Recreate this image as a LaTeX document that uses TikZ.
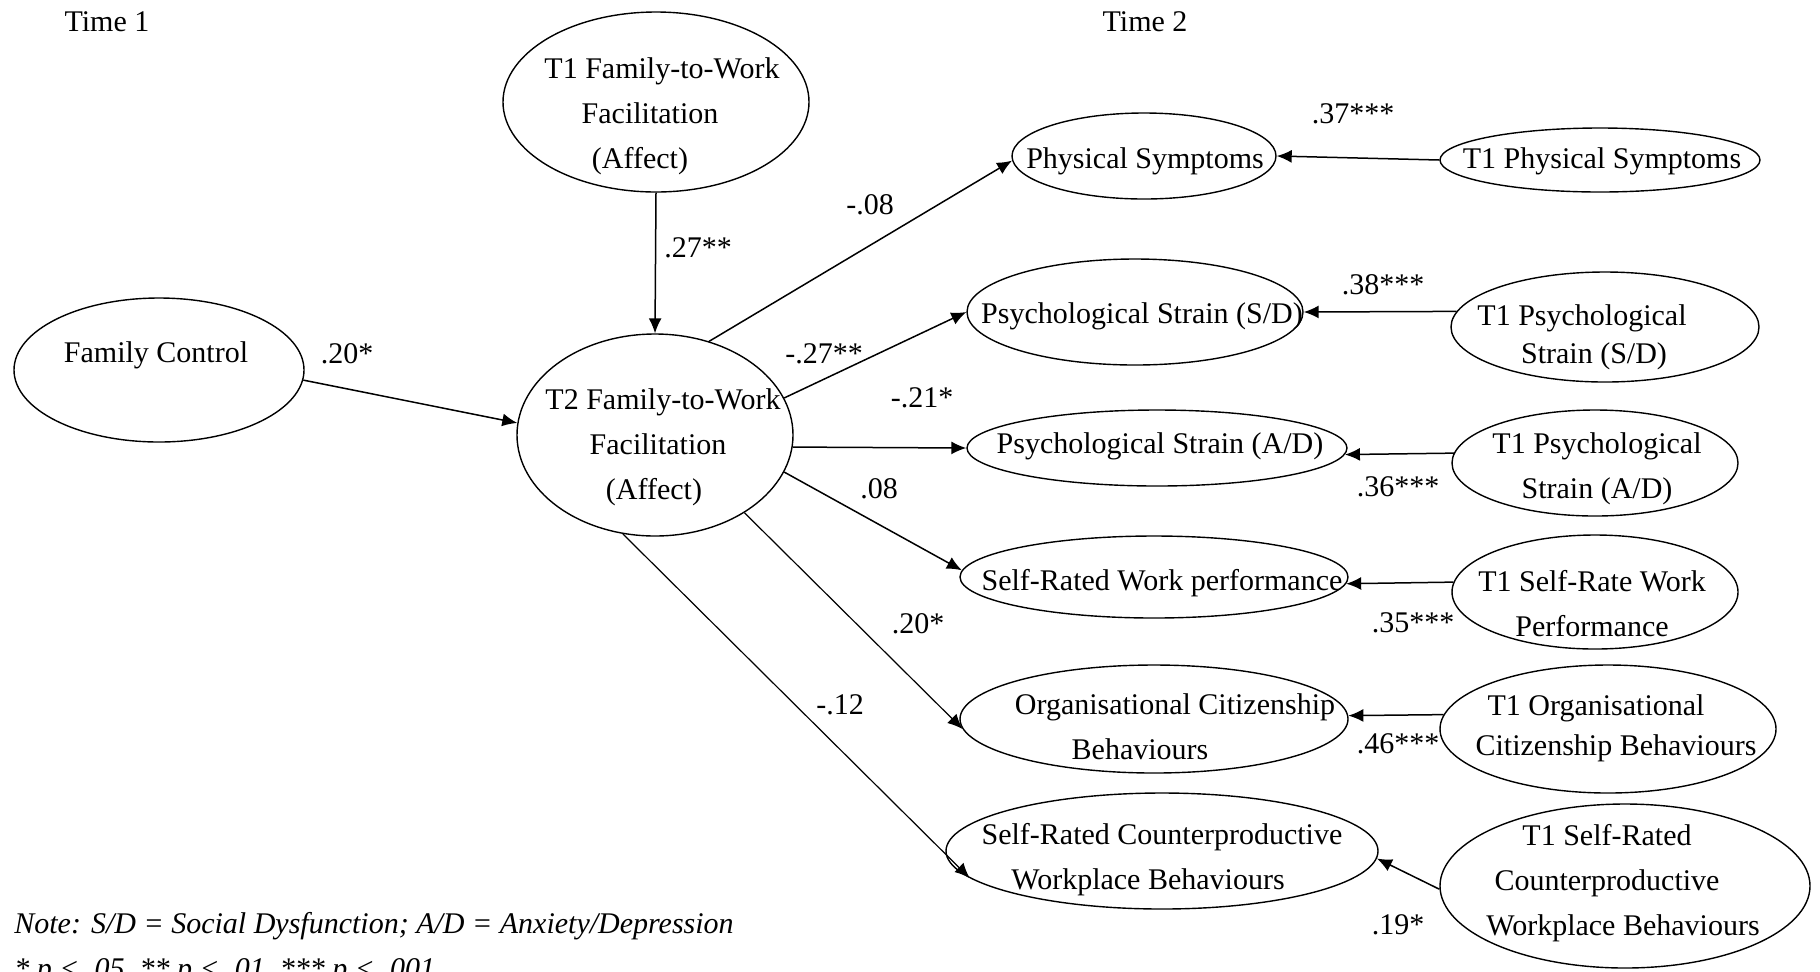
\documentclass[tikz,border=0pt]{standalone}
\usepackage{fontspec}
\setmainfont{Liberation Serif}
\usetikzlibrary{arrows.meta,shapes.geometric}

\begin{document}
\begin{tikzpicture}[
  x=0.5pt, y=-0.5pt,
  >={Latex[length=7.5pt,width=6.5pt]},
  font=\fontsize{15}{22.5}\selectfont,
  var/.style 2 args={draw, ellipse, line width=0.7pt, inner sep=0pt, minimum width=#1pt, minimum height=#2pt},
  vtxt/.style={align=center, inner sep=0pt},
  coef/.style={inner sep=0pt},
  notetxt/.style={anchor=base west, inner sep=0pt, font=\fontsize{15}{22.5}\selectfont\itshape},
  eff/.style={->, line width=0.75pt},
  effthin/.style={->, line width=0.6pt}
]
\useasboundingbox (0,0) rectangle (1820,971);
\clip (0,0) rectangle (1820,971);

\node[coef] (time1) at (107,22) {Time 1};
\node[coef] (time2) at (1145,22) {Time 2};

\node[var={145}{72}] (fc) at (159,370) {};
\node[vtxt] (fc-t) at (156,355) {Family Control};
\node[var={153}{90}] (t1ftw) at (656,102) {};
\node[vtxt] (t1ftw-t) at (650,116) {\hspace*{12pt}T1 Family-to-Work\\Facilitation\hspace*{6pt}\\(Affect)\hspace*{10pt}};
\node[var={138}{101}] (t2) at (655,435) {};
\node[vtxt] (t2-t) at (658,447) {\hspace*{5pt}T2 Family-to-Work\\Facilitation\\(Affect)\hspace*{4pt}};

\node[var={132}{43}] (phys) at (1144,156) {};
\node[vtxt] (phys-t) at (1145,161) {Physical Symptoms};
\node[var={168}{53}] (pssd) at (1135,312) {};
\node[vtxt] (pssd-t) at (1142,316) {Psychological Strain (S/D)};
\node[var={190}{38}] (psad) at (1157,448) {};
\node[vtxt] (psad-t) at (1160,446) {Psychological Strain (A/D)};
\node[var={194}{41}] (srwp) at (1154,577) {};
\node[vtxt] (srwp-t) at (1162,583) {Self-Rated Work performance};
\node[var={194}{54}] (ocb) at (1154,719) {};
\node[vtxt] (ocb-t) at (1160,727) {\hspace*{15pt}Organisational Citizenship\\Behaviours\hspace*{20pt}};
\node[var={216}{58}] (cwb) at (1162,851) {};
\node[vtxt] (cwb-t) at (1155,860) {\hspace*{7pt}Self-Rated Counterproductive\\Workplace Behaviours\hspace*{7pt}};

\node[var={160}{32}] (t1phys) at (1600,160) {};
\node[vtxt] (t1phys-t) at (1602,161) {T1 Physical Symptoms};
\node[var={154}{55}] (t1pssd) at (1605,327) {};
\node[vtxt] (t1pssd-t) at (1588,337) {T1 Psychological\hspace*{6pt}\\[-3.5pt]\hspace*{6pt}Strain (S/D)};
\node[var={143}{53}] (t1psad) at (1595,463) {};
\node[vtxt] (t1psad-t) at (1597,469) {T1 Psychological\\Strain (A/D)};
\node[var={143}{57}] (t1srwp) at (1595,592) {};
\node[vtxt] (t1srwp-t) at (1592,604) {T1 Self-Rate Work\\Performance};
\node[var={168}{64}] (t1ocb) at (1608,729) {};
\node[vtxt] (t1ocb-t) at (1609,728) {T1 Organisational\hspace*{13pt}\\[-2.5pt]\hspace*{7pt}Citizenship Behaviours};
\node[var={185}{82}] (t1cwb) at (1625,886) {};
\node[vtxt] (t1cwb-t) at (1607,883) {T1 Self-Rated\\Counterproductive\\\hspace*{16pt}Workplace Behaviours};

\draw[eff] (fc.-4) -- (t2.175);
\draw[eff] (t1ftw.south) -- (t2.north);
\draw[eff] (t2.60) -- (phys.182);
\draw[eff] (t2.16) -- (pssd.west);
\draw[eff] (t2.-5) -- (psad.west);
\draw[eff] (t2.-16) -- (srwp.178);
\draw[effthin] (t2.-41) -- (ocb.183);
\draw[effthin] (t2.252) -- (cwb.188);

\draw[eff] (t1phys.west) -- (phys.east);
\draw[eff] (t1pssd.174) -- (pssd.east);
\draw[eff] (t1psad.176) -- (psad.-2);
\draw[eff] (t1srwp.176) -- (srwp.-2);
\draw[eff] (t1ocb.175) -- (ocb.1);
\draw[eff] (t1cwb.181) -- (cwb.-2);

\node[coef] (c-fc) at (347,354) {.20*};
\node[coef] (c-t1) at (698,248) {.27**};
\node[coef] (c-phys) at (870,205) {-.08};
\node[coef] (c-pssd) at (824,354) {-.27**};
\node[coef] (c-psad) at (922,398) {-.21*};
\node[coef] (c-srwp) at (879,489) {.08};
\node[coef] (c-ocb) at (918,624) {.20*};
\node[coef] (c-cwb) at (840,705) {-.12};
\node[coef] (s-phys) at (1353,114) {.37***};
\node[coef] (s-pssd) at (1383,285) {.38***};
\node[coef] (s-psad) at (1398,487) {.36***};
\node[coef] (s-srwp) at (1413,623) {.35***};
\node[coef] (s-ocb) at (1398,744) {.46***};
\node[coef] (s-cwb) at (1398,925) {.19*};

\node[notetxt] (note) at (14,933) {Note: S/D = Social Dysfunction; A/D = Anxiety/Depression};
\node[notetxt] (sig) at (14,978) {* p < .05, ** p < .01, *** p < .001};
\end{tikzpicture}
\end{document}
